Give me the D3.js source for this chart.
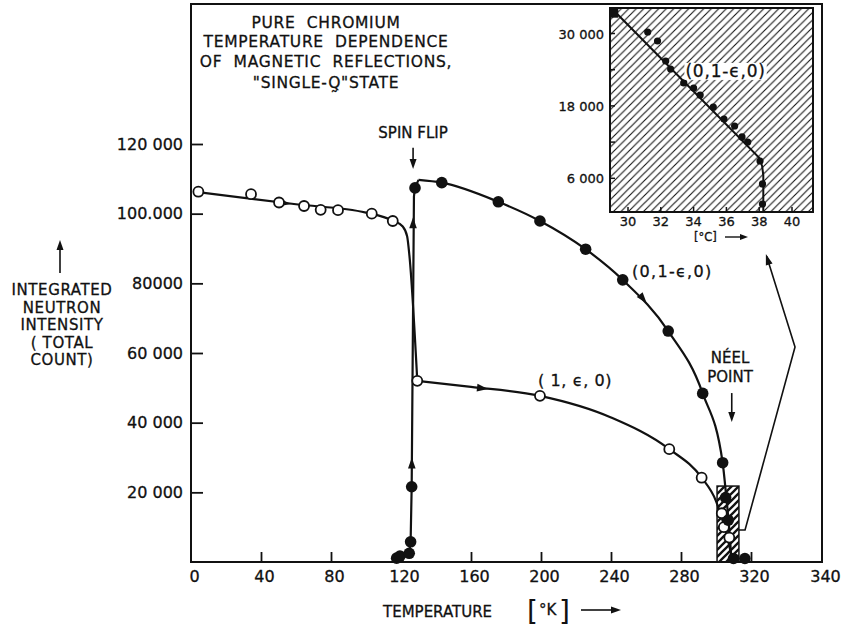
<!DOCTYPE html>
<html>
<head>
<meta charset="utf-8">
<script src="https://cdn.jsdelivr.net/npm/d3@7"></script>
<style>
  body { margin: 0; background: #fff; }
  svg text { font-family: "DejaVu Sans", sans-serif; fill: #111; stroke: #111; stroke-width: 0.3px; }
</style>
</head>
<body>
<svg id="chart" width="845" height="629"></svg>
<script>
// ---- axis ticks ----
var xTicks = [0, 40, 80, 120, 160, 200, 240, 280, 320, 340];
var yTicks = [20000, 40000, 60000, 80000, 100000, 120000];
var yTickLabels = ["20 000", "40 000", "60 000", "80000", "100.000", "120 000"];

// ---- open circles, low temperature branch ----
var lowT = [4.2, 34.3, 50.3, 64.6, 74.1, 84, 103.3, 115.3];
var lowI = [106300, 105600, 103200, 102200, 101100, 101000, 100000, 97900];
var lowCurveT = [4, 60, 100, 115.3, 121, 123.5, 124.8, 129.3];
var lowCurveI = [106200, 102700, 100300, 98000, 96300, 93500, 88000, 52000];

// ---- open circles, (1,e,0) ----
var transT = [129.3, 199.4, 273.3, 291.8, 303.3, 304.5, 307.6];
var transI = [52000, 47700, 32400, 24200, 14000, 10000, 7000];
var transCurveT = [129.3, 160, 199.4, 240, 273.3, 291.8, 300, 304, 307, 309, 310];
var transCurveI = [52000, 50300, 47700, 41500, 32400, 24200, 17500, 11500, 6000, 1500, 0];

// ---- filled circles, (0,1-e,0) ----
var longT = [117.5, 119.4, 124.7, 125.5, 126.1, 128, 143.3, 175.6, 199.4, 225.5, 246.7, 272.7, 292.4, 303.8, 305.5, 307, 310, 316.5];
var longI = [1100, 1700, 2500, 5800, 21600, 107400, 108900, 103400, 97900, 89800, 81000, 66300, 48400, 28500, 18500, 12000, 1000, 1000];
var riseT = [115, 119.4, 124.7, 125.5, 126.1, 127.4, 128, 130];
var riseI = [0, 1700, 2500, 5800, 21600, 105000, 107400, 109700];
var longCurveT = [130, 143.3, 175.6, 199.4, 225.5, 246.7, 272.7, 292.4, 303.8, 306, 307.5, 308.5, 309];
var longCurveI = [109700, 108900, 103400, 97900, 89800, 81000, 66300, 48400, 28500, 18000, 10000, 3000, 0];

// ---- inset (Neel region, deg C) ----
var insetXTicks = [30, 32, 34, 36, 38, 40];
var insetYTicks = [6000, 12000, 18000, 24000, 30000];
var insetYLabels = [6000, 18000, 30000];
var insetT = [29.1, 31.2, 31.8, 32.3, 32.6, 33.4, 34.0, 34.4, 35.2, 35.85, 36.5, 36.95, 37.3, 38.05, 38.2, 38.2];
var insetI = [33450, 30250, 28760, 25440, 24120, 21800, 20970, 19810, 17820, 15830, 14670, 12850, 12020, 8870, 5060, 1740];
var insetCurveT = [29.1, 38.0, 38.18, 38.25, 38.25];
var insetCurveI = [33900, 9400, 8000, 6500, 0];

var svg = d3.select("#chart");
var x = d3.scaleLinear().domain([0, 320, 340]).range([191, 751, 822]);
var y = d3.scaleLinear().domain([0, 120000]).range([562, 144]);
var ix = d3.scaleLinear().domain([30, 40]).range([628, 792]);
var iy = d3.scaleLinear().domain([0, 30000]).range([214.5, 33.5]);

var defs = svg.append("defs");
defs.append("pattern").attr("id", "hatch").attr("patternUnits", "userSpaceOnUse")
  .attr("width", 7.5).attr("height", 7.5)
  .append("path").attr("d", "M-1,1 L1,-1 M0,7.5 L7.5,0 M6.5,8.5 L8.5,6.5")
  .attr("stroke", "#111").attr("stroke-width", 1.1);
defs.append("pattern").attr("id", "hatchDense").attr("patternUnits", "userSpaceOnUse")
  .attr("width", 7).attr("height", 7)
  .append("path").attr("d", "M-1,1 L1,-1 M0,7 L7,0 M6,8 L8,6")
  .attr("stroke", "#111").attr("stroke-width", 2.3);
defs.append("clipPath").attr("id", "insetClip")
  .append("rect").attr("x", 610).attr("y", 8).attr("width", 203).attr("height", 204);

function head(g, px, py, ang, len, w) {
  g.append("path")
    .attr("d", "M0,0 L" + (-len) + "," + w + " L" + (-len) + "," + (-w) + " Z")
    .attr("transform", "translate(" + px + "," + py + ") rotate(" + ang + ")")
    .style("fill", "#111");
}
function angle(x1, y1, x2, y2) { return Math.atan2(y2 - y1, x2 - x1) * 180 / Math.PI; }
function zip(a, b) { return a.map(function(d, i) { return [d, b[i]]; }); }

// frame
svg.append("rect").attr("x", 191).attr("y", 4).attr("width", 631).attr("height", 558)
  .style("fill", "none").style("stroke", "#111").style("stroke-width", 2);

// axes
var xAxis = svg.append("g").attr("transform", "translate(0,562)")
  .call(d3.axisBottom(x).tickValues(xTicks).tickSize(-10).tickPadding(9).tickFormat(d3.format("d")));
xAxis.selectAll("text").attr("dx", 3).style("font-size", "16px");
var yAxis = svg.append("g").attr("transform", "translate(191,0)")
  .call(d3.axisLeft(y).tickValues(yTicks).tickSize(-12).tickPadding(8)
    .tickFormat(function(d, i) { return yTickLabels[i]; }));
yAxis.selectAll("text").style("font-size", "16px");
svg.selectAll(".domain").remove();
svg.selectAll(".tick line").style("stroke", "#111").style("stroke-width", 1.8);
svg.selectAll(".tick").filter(function(d) { return d === 0 || d === 340; }).select("line").remove();
svg.selectAll(".tick text").style("font-family", "DejaVu Sans").style("fill", "#111");

// axis titles
svg.append("text").attr("x", 383).attr("y", 617).style("font-size", "15px").text("TEMPERATURE");
svg.append("text").attr("x", 527).attr("y", 621).style("font-size", "28px").style("stroke-width", "0").text("[");
svg.append("text").attr("x", 539).attr("y", 615).style("font-size", "15px").text("°K");
svg.append("text").attr("x", 559).attr("y", 621).style("font-size", "28px").style("stroke-width", "0").text("]");
svg.append("line").attr("x1", 581).attr("x2", 612).attr("y1", 610).attr("y2", 610)
  .style("stroke", "#111").style("stroke-width", 1.6);
head(svg, 621, 610, 0, 10, 3.5);

var ylab = ["INTEGRATED", "NEUTRON", "INTENSITY", "( TOTAL", "COUNT)"];
svg.selectAll(".ylab").data(ylab).enter().append("text")
  .attr("x", 62).attr("y", function(d, i) { return [295, 313, 330, 348, 365][i]; })
  .attr("text-anchor", "middle").style("font-size", "15px").style("letter-spacing", "0.6px")
  .text(function(d) { return d; });
svg.append("line").attr("x1", 60).attr("x2", 60).attr("y1", 273).attr("y2", 248)
  .style("stroke", "#111").style("stroke-width", 1.6);
head(svg, 60, 240, -90, 10, 3.5);

// title block (Q with a tilde below: vector notation)
var title = ["PURE  CHROMIUM", "TEMPERATURE  DEPENDENCE", "OF  MAGNETIC  REFLECTIONS,", "\"SINGLE-Q\u0330\"STATE"];
svg.selectAll(".title").data(title).enter().append("text")
  .attr("x", 326).attr("y", function(d, i) { return [28, 47, 67, 88][i]; })
  .attr("text-anchor", "middle").style("font-size", "15.5px").style("letter-spacing", "0.7px")
  .style("white-space", "pre").attr("xml:space", "preserve")
  .text(function(d) { return d; });

// ---- inset ----
var ins = svg.append("g");
ins.append("rect").attr("x", 610).attr("y", 8).attr("width", 203).attr("height", 204)
  .style("fill", "url(#hatch)").style("stroke", "none");
var ig = ins.append("g").attr("clip-path", "url(#insetClip)");
ig.append("path").datum(zip(insetCurveT, insetCurveI))
  .attr("d", d3.line().x(function(d) { return ix(d[0]); }).y(function(d) { return iy(d[1]); }))
  .style("fill", "none").style("stroke", "#111").style("stroke-width", 2);
ig.selectAll(".ip").data(zip(insetT, insetI)).enter().append("circle")
  .attr("cx", function(d) { return ix(d[0]); }).attr("cy", function(d) { return iy(d[1]); })
  .attr("r", function(d, i) { return i === 0 ? 0 : 3.6; }).style("fill", "#111");
ig.append("rect").attr("x", ix(insetT[0]) - 5).attr("y", iy(insetI[0]) - 5).attr("width", 10).attr("height", 10)
  .style("fill", "#111");
ins.append("rect").attr("x", 610).attr("y", 8).attr("width", 203).attr("height", 204)
  .style("fill", "none").style("stroke", "#111").style("stroke-width", 2);
var ilab = ins.append("text").attr("x", ix(33.5)).attr("y", iy(22800))
  .style("font-size", "17px").style("letter-spacing", "0.8px").text("(0,1-ϵ,0)");
var ib = ilab.node().getBBox();
ins.insert("rect", "text").attr("x", ib.x - 1).attr("y", ib.y + 2).attr("width", ib.width + 2).attr("height", ib.height - 3)
  .style("fill", "#fff");
ins.selectAll(".iyt").data(insetYTicks).enter().append("line")
  .attr("x1", 610).attr("x2", 615).attr("y1", function(d) { return iy(d); }).attr("y2", function(d) { return iy(d); })
  .style("stroke", "#111").style("stroke-width", 1.5);
ins.selectAll(".ixt").data(insetXTicks).enter().append("line")
  .attr("x1", function(d) { return ix(d); }).attr("x2", function(d) { return ix(d); }).attr("y1", 212).attr("y2", 207)
  .style("stroke", "#111").style("stroke-width", 1.5);
ins.selectAll(".iyl").data(insetYLabels).enter().append("text")
  .attr("x", 604).attr("y", function(d) { return iy(d) + 5; }).attr("text-anchor", "end")
  .style("font-size", "13px").text(function(d) { return d3.format(",")(d).replace(",", " "); });
ins.selectAll(".ixl").data(insetXTicks).enter().append("text")
  .attr("x", function(d) { return ix(d); }).attr("y", 226).attr("text-anchor", "middle")
  .style("font-size", "13px").text(function(d) { return d; });
ins.append("text").attr("x", 694).attr("y", 241).style("font-size", "11.5px").text("[°C]");
ins.append("line").attr("x1", 725).attr("x2", 740).attr("y1", 237).attr("y2", 237)
  .style("stroke", "#111").style("stroke-width", 1.4);
head(ins, 748, 237, 0, 8, 3);

// ---- Neel region box and pointer ----
svg.append("rect").attr("x", x(300.6)).attr("y", y(21800)).attr("width", x(313.1) - x(300.6)).attr("height", y(0) - y(21800))
  .style("fill", "url(#hatchDense)").style("stroke", "#111").style("stroke-width", 1.5);
var pointer = [[313.1, 9200], [316.6, 9200], [332.4, 61700], [324.4, 87800]];
svg.append("path").datum(pointer)
  .attr("d", d3.line().x(function(d) { return x(d[0]); }).y(function(d) { return y(d[1]); }))
  .style("fill", "none").style("stroke", "#111").style("stroke-width", 1.6);
head(svg, x(324.2), y(88400), angle(x(332.4), y(61700), x(324.2), y(88400)), 11, 3.5);

// ---- curves ----
var lineMono = d3.line().x(function(d) { return x(d[0]); }).y(function(d) { return y(d[1]); }).curve(d3.curveMonotoneX);
var lineLin = d3.line().x(function(d) { return x(d[0]); }).y(function(d) { return y(d[1]); });
var curves = svg.append("g").style("fill", "none").style("stroke", "#111").style("stroke-width", 2.2);
curves.append("path").attr("d", lineMono(zip(lowCurveT, lowCurveI)));
curves.append("path").attr("d", lineMono(zip(transCurveT, transCurveI)));
curves.append("path").attr("d", lineLin(zip(riseT, riseI)));
curves.append("path").attr("d", lineMono(zip(longCurveT, longCurveI)));

// direction arrows on curves
var arrows = [[57, 102750, 65, 102200], [169.7, 49700, 180, 49100], [126.9, 99000, 127, 110000],
  [126.2, 30000, 126.3, 40000], [260.4, 74300, 265, 71500]];
arrows.forEach(function(a) {
  var px = x(a[0]), py = y(a[1]);
  head(svg, px, py, angle(px, py, x(a[2]), y(a[3])), 11, 3.8);
});

// markers
svg.selectAll(".open").data(zip(lowT, lowI).concat(zip(transT, transI))).enter().append("circle")
  .attr("cx", function(d) { return x(d[0]); }).attr("cy", function(d) { return y(d[1]); })
  .attr("r", 5).style("fill", "#fff").style("stroke", "#111").style("stroke-width", 1.8);
svg.selectAll(".filled").data(zip(longT, longI)).enter().append("circle")
  .attr("cx", function(d) { return x(d[0]); }).attr("cy", function(d) { return y(d[1]); })
  .attr("r", 5.8).style("fill", "#111");

// ---- annotations ----
svg.append("text").attr("x", x(126.9)).attr("y", 138).attr("text-anchor", "middle")
  .style("font-size", "15px").text("SPIN FLIP");
svg.append("line").attr("x1", x(126.9)).attr("x2", x(126.9)).attr("y1", y(118900)).attr("y2", y(115000))
  .style("stroke", "#111").style("stroke-width", 1.6);
head(svg, x(126.9), y(112800), 90, 10, 3.5);

svg.append("text").attr("x", x(308)).attr("y", 363).attr("text-anchor", "middle")
  .style("font-size", "15px").text("NÉEL");
svg.append("text").attr("x", x(308)).attr("y", 382).attr("text-anchor", "middle")
  .style("font-size", "15px").text("POINT");
svg.append("line").attr("x1", x(309)).attr("x2", x(309)).attr("y1", y(48500)).attr("y2", y(43000))
  .style("stroke", "#111").style("stroke-width", 1.6);
head(svg, x(309), y(40200), 90, 10, 3.5);

svg.append("text").attr("x", x(252)).attr("y", y(81800)).style("font-size", "16px")
  .style("letter-spacing", "1.3px").text("(0,1-ϵ,0)");
svg.append("text").attr("x", x(198.3)).attr("y", y(50500)).style("font-size", "16px")
  .style("letter-spacing", "0.6px").text("( 1, ϵ, 0)");
</script>
</body>
</html>
